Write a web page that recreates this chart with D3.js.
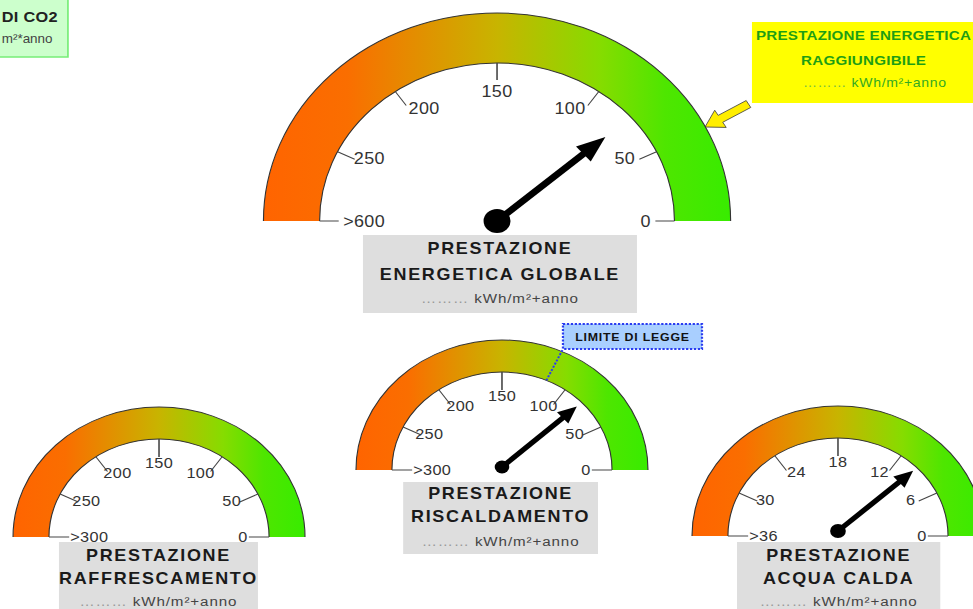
<!DOCTYPE html>
<html><head><meta charset="utf-8">
<script src="https://cdn.jsdelivr.net/npm/d3@7/dist/d3.min.js"></script>
<style>body{margin:0;background:#fff}svg{display:block}</style>
</head><body>
<script>
// ---------- DATA ----------
const gaugeNames = ["global", "heating", "cooling", "water"];
const tickLabelsGlobal = ["0", "50", "100", "150", "200", "250", ">600"];
const tickValuesGlobal = [0, 50, 100, 150, 200, 250, 300];
const tickLabelsHeating = ["0", "50", "100", "150", "200", "250", ">300"];
const tickValuesHeating = [0, 50, 100, 150, 200, 250, 300];
const tickLabelsCooling = ["0", "50", "100", "150", "200", "250", ">300"];
const tickValuesCooling = [0, 50, 100, 150, 200, 250, 300];
const tickLabelsWater = ["0", "6", "12", "18", "24", "30", ">36"];
const tickValuesWater = [0, 6, 12, 18, 24, 30, 36];
const needleValues = [76, 78, null, 9.3];
const legalLimitHeating = 116;
const titleLine1 = ["PRESTAZIONE", "PRESTAZIONE", "PRESTAZIONE", "PRESTAZIONE"];
const titleLine2 = ["ENERGETICA GLOBALE", "RISCALDAMENTO", "RAFFRESCAMENTO", "ACQUA CALDA"];
const unitText = "kWh/m²+anno";
const placeholder = "………";
const targetLines = ["PRESTAZIONE ENERGETICA", "RAGGIUNGIBILE"];
const co2Lines = ["DI CO2", "m²*anno"];
const limitText = "LIMITE DI LEGGE";

// ---------- LAYOUT ----------
const SX = 1.123;
const FONT = "'Liberation Sans', Arial, sans-serif";
const tickAngleStops = [0, 26, 55, 90, 125, 154, 180];
const labelAngleStops = [0, 29, 60, 90, 120, 151, 180];
const tickLabels = [tickLabelsGlobal, tickLabelsHeating, tickLabelsCooling, tickLabelsWater];
const tickValues = [tickValuesGlobal, tickValuesHeating, tickValuesCooling, tickValuesWater];
const layouts = [
  {cx: 442.6, cy: 221, ro: 208, ri: 158, tickLen: 17, labelR: 130, endR: 137, font: 16, hubR: 12, hubDy: 0,
   needleLen: 128, needleW: 6.5, headL: 26, headW: 10, box: {x: 323.2, y: 235, w: 244, h: 78}, base: [254, 280, 303]},
  {cx: 447, cy: 470, ro: 130, ri: 98, tickLen: 18, labelR: 74, endR: 79, font: 14.5, hubR: 6.5, hubDy: -3,
   needleLen: 90, needleW: 5, headL: 17, headW: 7.5, box: {x: 359, y: 482, w: 173.5, h: 72}, base: [499, 522, 546]},
  {cx: 141.6, cy: 537, ro: 130, ri: 98, tickLen: 18, labelR: 74, endR: 79, font: 14.5, hubR: 6.5, hubDy: -3,
   needleLen: 90, needleW: 5, headL: 17, headW: 7.5, box: {x: 52.5, y: 542, w: 177.2, h: 72}, base: [561, 584, 606]},
  {cx: 746.2, cy: 536, ro: 130, ri: 98, tickLen: 18, labelR: 74, endR: 79, font: 14.5, hubR: 7, hubDy: -5,
   needleLen: 90, needleW: 5, headL: 17, headW: 7.5, box: {x: 656.3, y: 542, w: 181, h: 72}, base: [561, 584, 606]}
];

const svg = d3.select("body").append("svg").attr("width", 973).attr("height", 609);
const defs = svg.append("defs");
const grad = defs.append("linearGradient").attr("id", "band")
  .attr("x1", "0").attr("x2", "1").attr("y1", "0").attr("y2", "0");
[[0, "#ff6400"], [0.18, "#fa6e00"], [0.5, "#c8b400"], [0.72, "#86dc00"], [0.86, "#4ee600"], [1, "#38ec00"]]
  .forEach(([o, c]) => grad.append("stop").attr("offset", o).attr("stop-color", c));

const root = svg.append("g").attr("transform", `scale(${SX},1)`);

// top-left green box (mostly off canvas)
const co2 = root.append("g");
co2.append("rect").attr("x", -120).attr("y", -2).attr("width", 180.5).attr("height", 59)
  .attr("fill", "#ccffcc").attr("stroke", "#77ee77").attr("stroke-width", 1.5);
co2.append("text").attr("x", 1.5).attr("y", 22)
  .attr("font-family", FONT).attr("font-weight", "bold").attr("font-size", 14.5).attr("letter-spacing", 0.3)
  .attr("fill", "#222").text(co2Lines[0]);
co2.append("text").attr("x", 1.5).attr("y", 43)
  .attr("font-family", FONT).attr("font-size", 12).attr("fill", "#444").text(co2Lines[1]);

// top-right yellow box
const tgt = root.append("g");
tgt.append("rect").attr("x", 669.6).attr("y", 22).attr("width", 300).attr("height", 81).attr("fill", "#ffff00");
const tcx = 769;
targetLines.forEach((t, i) => {
  tgt.append("text").attr("x", tcx).attr("y", [40, 65][i]).attr("text-anchor", "middle")
    .attr("font-family", FONT).attr("font-weight", "bold").attr("font-size", 13.5).attr("letter-spacing", 0.2)
    .attr("fill", "#1e9e14").text(t);
});
const tgt3 = tgt.append("text").attr("x", tcx + 10).attr("y", 87).attr("text-anchor", "middle")
  .attr("font-family", FONT).attr("font-size", 12.5).attr("letter-spacing", 0.6).attr("fill", "#33aa22");
tgt3.append("tspan").attr("fill", "#77bb44").text(placeholder + " ");
tgt3.append("tspan").text(unitText);

// yellow pointer arrow toward the main gauge
(function () {
  const tip = [627.8, 127], tail = [666.5, 104];
  const dx = tip[0] - tail[0], dy = tip[1] - tail[1], L = Math.hypot(dx, dy);
  const ux = dx / L, uy = dy / L, px = -uy, py = ux;
  const hl = 16, sw = 4, hw = 10;
  const bx = tip[0] - ux * hl, by = tip[1] - uy * hl;
  const pts = [
    [tail[0] + px * sw, tail[1] + py * sw], [bx + px * sw, by + py * sw], [bx + px * hw, by + py * hw],
    tip, [bx - px * hw, by - py * hw], [bx - px * sw, by - py * sw], [tail[0] - px * sw, tail[1] - py * sw]
  ];
  root.append("polygon").attr("points", pts.map(p => p.join(",")).join(" "))
    .attr("fill", "#ffee00").attr("stroke", "#444").attr("stroke-width", 0.8);
})();

function polar(L, r, deg) {
  const t = deg * Math.PI / 180;
  return [L.cx + r * Math.cos(t), L.cy - r * Math.sin(t)];
}

gaugeNames.forEach((name, gi) => {
  const L = layouts[gi];
  const g = root.append("g").attr("class", "gauge-" + name);
  const angle = d3.scaleLinear().domain(tickValues[gi]).range(tickAngleStops);
  const labelAngle = d3.scaleLinear().domain(tickValues[gi]).range(labelAngleStops);

  // band
  const arc = d3.arc().innerRadius(L.ri).outerRadius(L.ro).startAngle(-Math.PI / 2).endAngle(Math.PI / 2);
  g.append("path").attr("transform", `translate(${L.cx},${L.cy})`).attr("d", arc()).attr("fill", "url(#band)");
  [L.ro, L.ri].forEach(r => {
    const p = d3.path(); p.arc(L.cx, L.cy, r, Math.PI, 2 * Math.PI);
    g.append("path").attr("d", p.toString()).attr("fill", "none").attr("stroke", "#333").attr("stroke-width", 1);
  });

  // ticks & labels
  tickValues[gi].forEach((v, ti) => {
    const a = angle(v);
    const p1 = polar(L, L.ri, a), p2 = polar(L, L.ri - L.tickLen, a);
    g.append("line").attr("x1", p1[0]).attr("y1", p1[1]).attr("x2", p2[0]).attr("y2", p2[1])
      .attr("stroke", "#444").attr("stroke-width", a === 90 ? 1.4 : 1);
    const la = labelAngle(v);
    let anchor = "middle", r = L.labelR;
    if (la === 0) { anchor = "end"; r = L.endR; }
    if (la === 180) { anchor = "start"; r = L.endR; }
    const lp = polar(L, r, la);
    g.append("text").attr("x", lp[0]).attr("y", lp[1]).attr("dy", "0.36em").attr("text-anchor", anchor)
      .attr("font-family", FONT).attr("font-size", L.font).attr("letter-spacing", 0.3)
      .attr("fill", "#333").text(tickLabels[gi][ti]);
  });

  // legal limit marker (heating only)
  if (name === "heating") {
    const a = angle(legalLimitHeating);
    const p1 = polar(L, L.ri, a);
    const bx = 501.3, by = 349;
    g.append("line").attr("x1", p1[0]).attr("y1", p1[1]).attr("x2", bx).attr("y2", by)
      .attr("stroke", "#2a3cf0").attr("stroke-width", 1.8).attr("stroke-dasharray", "2,1.5");
    g.append("rect").attr("x", bx).attr("y", 324).attr("width", 123.8).attr("height", 25)
      .attr("fill", "#a9cfff").attr("stroke", "#2a3cf0").attr("stroke-width", 2).attr("stroke-dasharray", "2,1.5");
    g.append("text").attr("x", bx + 61.9).attr("y", 340.5).attr("text-anchor", "middle")
      .attr("font-family", FONT).attr("font-weight", "bold").attr("font-size", 11).attr("letter-spacing", 0.7)
      .attr("fill", "#111").text(limitText);
  }

  // needle
  const nv = needleValues[gi];
  if (nv !== null) {
    const a = angle(nv) * Math.PI / 180;
    const hx = L.cx, hy = L.cy + L.hubDy;
    const ux = Math.cos(a), uy = -Math.sin(a), px = -uy, py = ux;
    const tip = [hx + ux * L.needleLen, hy + uy * L.needleLen];
    const base = [tip[0] - ux * L.headL, tip[1] - uy * L.headL];
    g.append("line").attr("x1", hx).attr("y1", hy).attr("x2", base[0] + ux * 2).attr("y2", base[1] + uy * 2)
      .attr("stroke", "#000").attr("stroke-width", L.needleW);
    g.append("polygon").attr("points", [tip, [base[0] + px * L.headW, base[1] + py * L.headW],
      [base[0] - px * L.headW, base[1] - py * L.headW]].map(p => p.join(",")).join(" ")).attr("fill", "#000");
    g.append("circle").attr("cx", hx).attr("cy", hy).attr("r", L.hubR).attr("fill", "#000");
  }

  // title box
  const b = L.box, mx = b.x + b.w / 2;
  g.append("rect").attr("x", b.x).attr("y", b.y).attr("width", b.w).attr("height", b.h).attr("fill", "#dedede");
  [titleLine1[gi], titleLine2[gi]].forEach((t, i) => {
    g.append("text").attr("x", mx).attr("y", L.base[i]).attr("text-anchor", "middle")
      .attr("font-family", FONT).attr("font-weight", "bold").attr("font-size", 16).attr("letter-spacing", 1.5)
      .attr("fill", "#1a1a1a").text(t);
  });
  const u = g.append("text").attr("x", mx).attr("y", L.base[2]).attr("text-anchor", "middle")
    .attr("font-family", FONT).attr("font-size", 13.5).attr("letter-spacing", 0.8).attr("fill", "#444");
  u.append("tspan").attr("fill", "#999").text(placeholder + " ");
  u.append("tspan").text(unitText);
});
</script>
</body></html>
